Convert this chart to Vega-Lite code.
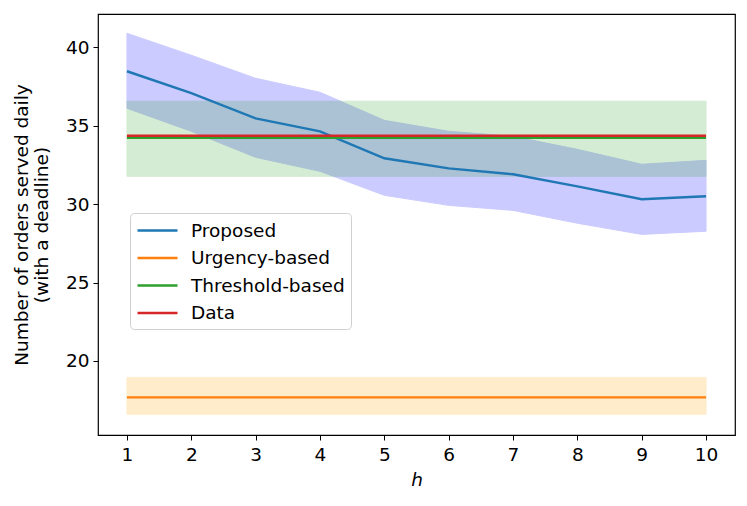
{
  "$schema": "https://vega.github.io/schema/vega-lite/v6.json",
  "width": 637,
  "height": 421,
  "autosize": {"type": "none"},
  "padding": {"left": 98, "top": 14, "right": 12, "bottom": 71},
  "background": "white",
  "config": {
    "font": "DejaVu Sans",
    "view": {"stroke": "black", "strokeWidth": 1.2},
    "axis": {
      "grid": false,
      "domain": false,
      "tickColor": "black",
      "tickSize": 5,
      "tickWidth": 1,
      "labelColor": "black",
      "labelFontSize": 18.5,
      "labelPadding": 4,
      "titleColor": "black",
      "titleFontSize": 18.5,
      "titleFontWeight": "normal"
    }
  },
  "data": {
    "values": [
      {"h": 1, "series": "Proposed", "mean": 38.47, "lo": 36.11, "hi": 40.89},
      {"h": 2, "series": "Proposed", "mean": 37.07, "lo": 34.64, "hi": 39.49},
      {"h": 3, "series": "Proposed", "mean": 35.47, "lo": 32.98, "hi": 38.02},
      {"h": 4, "series": "Proposed", "mean": 34.64, "lo": 32.09, "hi": 37.13},
      {"h": 5, "series": "Proposed", "mean": 32.92, "lo": 30.56, "hi": 35.34},
      {"h": 6, "series": "Proposed", "mean": 32.28, "lo": 29.92, "hi": 34.64},
      {"h": 7, "series": "Proposed", "mean": 31.90, "lo": 29.60, "hi": 34.32},
      {"h": 8, "series": "Proposed", "mean": 31.13, "lo": 28.78, "hi": 33.49},
      {"h": 9, "series": "Proposed", "mean": 30.31, "lo": 28.07, "hi": 32.54},
      {"h": 10, "series": "Proposed", "mean": 30.50, "lo": 28.27, "hi": 32.79},
      {"h": 1, "series": "Urgency-based", "mean": 17.68, "lo": 16.6, "hi": 18.95},
      {"h": 10, "series": "Urgency-based", "mean": 17.68, "lo": 16.6, "hi": 18.95},
      {"h": 1, "series": "Threshold-based", "mean": 34.22, "lo": 31.77, "hi": 36.56},
      {"h": 10, "series": "Threshold-based", "mean": 34.22, "lo": 31.77, "hi": 36.56},
      {"h": 1, "series": "Data", "mean": 34.36, "lo": null, "hi": null},
      {"h": 10, "series": "Data", "mean": 34.36, "lo": null, "hi": null}
    ]
  },
  "encoding": {
    "x": {
      "field": "h",
      "type": "quantitative",
      "scale": {"domain": [0.55, 10.45], "nice": false, "zero": false},
      "axis": {"values": [1, 2, 3, 4, 5, 6, 7, 8, 9, 10], "title": "h", "titleFontStyle": "italic", "titlePadding": 7, "labelPadding": 5}
    }
  },
  "layer": [
    {
      "mark": {"type": "area", "opacity": 0.2, "strokeWidth": 1, "strokeOpacity": 1},
      "encoding": {
        "y": {
          "field": "lo",
          "type": "quantitative",
          "scale": {"domain": [15.28, 42.12], "nice": false, "zero": false},
          "axis": {"values": [20, 25, 30, 35, 40], "title": ["Number of orders served daily", "(with a deadline)"], "titlePadding": 14, "titleLineHeight": 20}
        },
        "y2": {"field": "hi"},
        "fill": {
          "field": "series",
          "type": "nominal",
          "scale": {"domain": ["Proposed", "Urgency-based", "Threshold-based"], "range": ["#0000ff", "#ffa500", "#2ca02c"]},
          "legend": null
        },
        "stroke": {
          "field": "series",
          "type": "nominal",
          "scale": {"domain": ["Proposed", "Urgency-based", "Threshold-based"], "range": ["#0000ff", "#ffa500", "#2ca02c"]},
          "legend": null
        }
      }
    },
    {
      "mark": {"type": "line", "strokeWidth": 2.4},
      "encoding": {
        "y": {"field": "mean", "type": "quantitative"},
        "color": {
          "field": "series",
          "type": "nominal",
          "scale": {"domain": ["Proposed", "Urgency-based", "Threshold-based", "Data"], "range": ["#1f77b4", "#ff7f0e", "#2ca02c", "#d62728"]},
          "sort": ["Proposed", "Urgency-based", "Threshold-based", "Data"],
          "legend": {
            "title": null,
            "orient": "none",
            "legendX": 32,
            "legendY": 199,
            "symbolType": "M-1,0H3",
            "symbolSize": 400,
            "symbolStrokeWidth": 2.4,
            "labelFontSize": 18.5,
            "labelColor": "black",
            "rowPadding": 6.5,
            "labelOffset": 32,
            "padding": 6,
            "strokeColor": "#d0d0d0",
            "fillColor": "white",
            "cornerRadius": 4
          }
        }
      }
    }
  ]
}
